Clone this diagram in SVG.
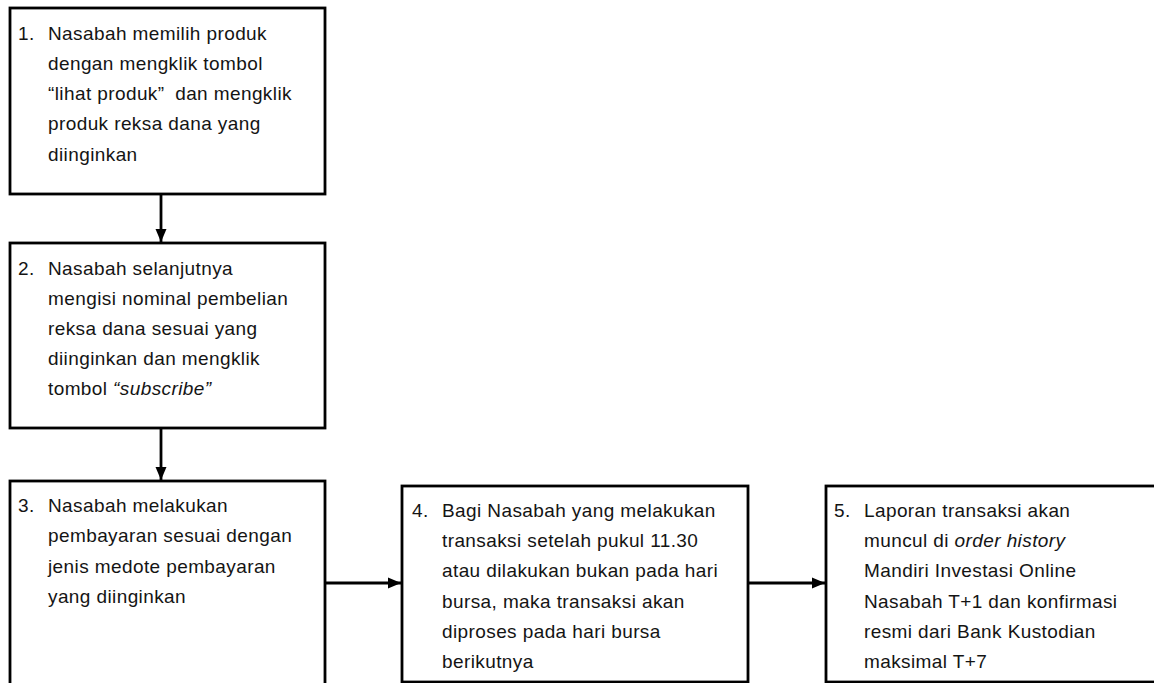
<svg xmlns="http://www.w3.org/2000/svg" width="1154" height="683" viewBox="0 0 1154 683">
<style>
.box{fill:#fff;stroke:#000;stroke-width:2.8}
.t{font-family:"Liberation Sans",Arial,sans-serif;font-size:19px;letter-spacing:0.4px;fill:#141414}
.it{font-style:italic}
.conn{stroke:#000;stroke-width:2.8;fill:none}
</style>
<defs>
<marker id="ah" markerUnits="userSpaceOnUse" markerWidth="14" markerHeight="12" refX="13" refY="6" orient="auto">
<path d="M0,0.5 L13,6 L0,11.5 z" fill="#000"/>
</marker>
</defs>
<rect x="0" y="0" width="1154" height="683" fill="#fff"/>
<g id="connectors">
<line class="conn" x1="161" y1="194" x2="161" y2="242" marker-end="url(#ah)"/>
<line class="conn" x1="161" y1="428" x2="161" y2="480" marker-end="url(#ah)"/>
<line class="conn" x1="325" y1="583" x2="401" y2="583" marker-end="url(#ah)"/>
<line class="conn" x1="748" y1="583" x2="825" y2="583" marker-end="url(#ah)"/>
</g>
<g id="node1">
<rect class="box" x="10" y="8" width="315" height="186"/>
<text class="t"><tspan x="18" y="39.5">1.</tspan>
<tspan x="48" y="39.5">Nasabah memilih produk</tspan>
<tspan x="48" y="69.8">dengan mengklik tombol</tspan>
<tspan x="48" y="100.1">“lihat produk”<tspan dx="5"> dan mengklik</tspan></tspan>
<tspan x="48" y="130.4">produk reksa dana yang</tspan>
<tspan x="48" y="160.7">diinginkan</tspan></text>
</g>
<g id="node2">
<rect class="box" x="10" y="243" width="315" height="185"/>
<text class="t"><tspan x="18" y="275">2.</tspan>
<tspan x="48" y="275">Nasabah selanjutnya</tspan>
<tspan x="48" y="305">mengisi nominal pembelian</tspan>
<tspan x="48" y="335">reksa dana sesuai yang</tspan>
<tspan x="48" y="365">diinginkan dan mengklik</tspan>
<tspan x="48" y="395">tombol <tspan class="it">“subscribe”</tspan></tspan></text>
</g>
<g id="node3">
<rect class="box" x="10" y="481" width="315" height="210"/>
<text class="t"><tspan x="18" y="512">3.</tspan>
<tspan x="48" y="512">Nasabah melakukan</tspan>
<tspan x="48" y="542.3">pembayaran sesuai dengan</tspan>
<tspan x="48" y="572.6">jenis medote pembayaran</tspan>
<tspan x="48" y="602.9">yang diinginkan</tspan></text>
</g>
<g id="node4">
<rect class="box" x="402" y="486" width="346" height="196"/>
<text class="t"><tspan x="412" y="517">4.</tspan>
<tspan x="442" y="517">Bagi Nasabah yang melakukan</tspan>
<tspan x="442" y="547.2">transaksi setelah pukul 11.30</tspan>
<tspan x="442" y="577.4">atau dilakukan bukan pada hari</tspan>
<tspan x="442" y="607.6">bursa, maka transaksi akan</tspan>
<tspan x="442" y="637.8">diproses pada hari bursa</tspan>
<tspan x="442" y="668">berikutnya</tspan></text>
</g>
<g id="node5">
<rect class="box" x="826" y="486" width="340" height="196"/>
<text class="t"><tspan x="834" y="517">5.</tspan>
<tspan x="864" y="517">Laporan transaksi akan</tspan>
<tspan x="864" y="547.2">muncul di <tspan class="it">order history</tspan></tspan>
<tspan x="864" y="577.4">Mandiri Investasi Online</tspan>
<tspan x="864" y="607.6">Nasabah T+1 dan konfirmasi</tspan>
<tspan x="864" y="637.8">resmi dari Bank Kustodian</tspan>
<tspan x="864" y="668">maksimal T+7</tspan></text>
</g>
</svg>
